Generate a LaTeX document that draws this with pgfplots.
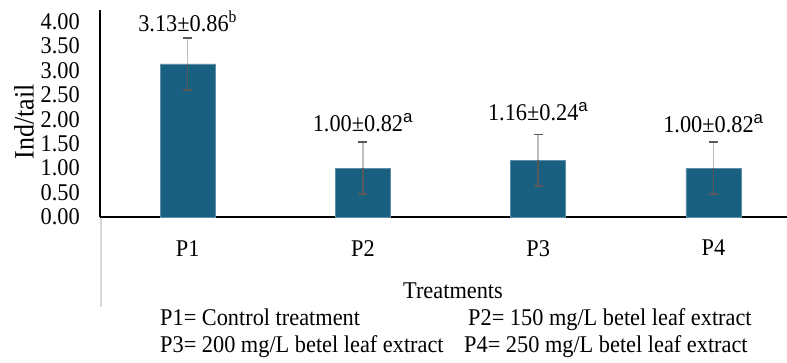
\documentclass[border=0pt]{standalone}
\usepackage{pgfplots}
\pgfplotsset{compat=1.18}
\usepackage{fontspec}
\setmainfont{Liberation Serif}[FakeStretch=0.93]
\setsansfont{Liberation Sans}
\definecolor{barcol}{RGB}{24,95,128}
\definecolor{errdark}{RGB}{89,89,89}
\definecolor{errlight}{RGB}{190,190,190}
\pgfplotstableread{
x y e
0 3.13 0.53
1 1.00 0.53
2 1.16 0.53
3 1.00 0.53
}\datatable
\begin{document}
\begin{tikzpicture}[x=1bp,y=1bp,font=\fontsize{24bp}{28bp}\selectfont]
\useasboundingbox (0,0) rectangle (787,362);
\begin{axis}[
  at={(100bp,145bp)}, anchor=south west,
  width=687bp, height=207bp, scale only axis,
  xmin=-0.5, xmax=3.42, ymin=0, ymax=4.233,
  axis lines=left,
  axis line style={-, line width=1.7bp, black},
  xtick={0,1,2,3}, xticklabels={P1,P2,P3,P4},
  ytick={0,0.5,1,1.5,2,2.5,3,3.5,4},
  major tick length=0pt,
  tick label style={font=\fontsize{24bp}{28bp}\selectfont, inner sep=0pt},
  x tick label style={anchor=north},
  y tick label style={anchor=east},
  xticklabel shift=23bp,
  yticklabel shift=20bp,
  yticklabel style={/pgf/number format/.cd, fixed, fixed zerofill, precision=2, assume math mode=true},
  clip=false,
]
\addplot[ybar, bar width=55bp, bar shift=0pt, fill=barcol, draw=barcol!70!white, line width=0.6bp,
  error bars/.cd, y dir=minus, y explicit,
  error bar style={errdark, line width=1.4bp, solid},
  error mark options={rotate=90, errdark, line width=1.4bp, mark size=4.5bp}]
  table[x=x, y=y, y error=e] {\datatable};
\addplot[draw=none, mark=none, forget plot,
  error bars/.cd, y dir=plus, y explicit,
  error bar style={draw=errlight, line width=1.4bp, solid},
  error mark options={rotate=90, draw=errdark, line width=1.4bp, mark size=4.5bp}]
  table[x=x, y=y, y error=e] {\datatable};
\addplot[draw=none, mark=none, forget plot, nodes near coords, point meta=explicit symbolic,
  nodes near coords style={anchor=center, inner sep=0pt, font=\fontsize{24bp}{28bp}\selectfont}]
  coordinates {
    (0,4.00) [3.13±0.86\textsuperscript{b}]
    (1,1.92) [1.00±0.82\textsuperscript{\sffamily a}]
    (2,2.15) [1.16±0.24\textsuperscript{\sffamily a}]
    (3,1.90) [1.00±0.82\textsuperscript{\sffamily a}]
  };
\end{axis}
\draw[color=black!15, line width=1.5bp] (101,144) -- (101,55);
\node[rotate=90, inner sep=0pt, font=\fontsize{28bp}{32bp}\selectfont] at (24,240) {Ind/tail};
\node[anchor=base, inner sep=0pt] at (453,64) {Treatments};
\node[anchor=base west, inner sep=0pt] at (160,37) {P1= Control treatment};
\node[anchor=base west, inner sep=0pt] at (468,37) {P2= 150 mg/L betel leaf extract};
\node[anchor=base west, inner sep=0pt] at (160,10) {P3= 200 mg/L betel leaf extract};
\node[anchor=base west, inner sep=0pt] at (464,10) {P4= 250 mg/L betel leaf extract};
\end{tikzpicture}
\end{document}
